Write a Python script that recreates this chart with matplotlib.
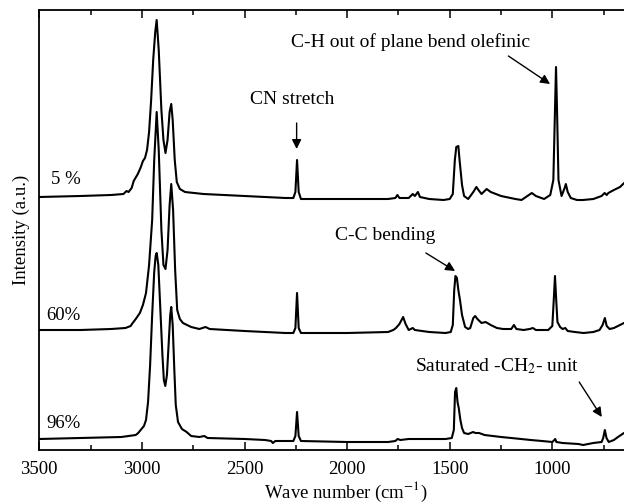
import matplotlib.pyplot as plt
import matplotlib.ticker as mticker

plt.rcParams['font.family'] = ['Liberation Serif', 'DejaVu Serif']
plt.rcParams['mathtext.fontset'] = 'stix'

# spectra (wavenumber, intensity in arbitrary units, already offset)
wn_5 = [3500, 3300, 3150, 3090, 3075, 3065, 3050, 3040, 3020, 3005, 2995, 2985, 2975,
        2965, 2955, 2945, 2935, 2928, 2918, 2905, 2895, 2885, 2875, 2865, 2857, 2850,
        2840, 2830, 2815, 2790, 2700, 2500, 2300, 2262, 2252, 2244, 2236, 2225, 2000,
        1800, 1765, 1755, 1745, 1700, 1680, 1670, 1655, 1645, 1600, 1530, 1500, 1485,
        1475, 1468, 1458, 1452, 1440, 1430, 1410, 1385, 1370, 1360, 1345, 1320, 1300,
        1250, 1180, 1150, 1100, 1080, 1040, 1010, 995, 987, 982, 977, 970, 955, 940,
        934, 925, 910, 880, 850, 800, 760, 745, 735, 727, 700, 670, 650, 620]
int_5 = [253, 254, 255, 256, 259, 258, 262, 269, 276, 283, 289, 292, 300,
         318, 350, 390, 418, 430, 400, 340, 310, 297, 310, 338, 346, 330,
         290, 268, 261, 258, 256, 254, 252, 252, 258, 290, 258, 251, 251,
         251, 252, 255, 252, 252, 256, 254, 258, 253, 251, 250, 251, 256,
         290, 303, 304, 290, 265, 254, 251, 258, 263, 260, 256, 261, 258,
         254, 251, 250, 257, 254, 251, 255, 270, 340, 383, 340, 270, 254, 262,
         266, 258, 252, 250, 250, 251, 254, 257, 255, 257, 260, 263, 267, 272]

wn_60 = [3500, 3300, 3150, 3080, 3055, 3045, 3030, 3010, 2995, 2980, 2965, 2950, 2940,
         2928, 2918, 2905, 2895, 2885, 2875, 2865, 2857, 2848, 2838, 2828, 2815, 2800,
         2760, 2720, 2690, 2670, 2500, 2300, 2262, 2252, 2244, 2236, 2225, 2000, 1800,
         1775, 1762, 1745, 1727, 1715, 1700, 1690, 1680, 1670, 1600, 1520, 1495, 1485,
         1478, 1472, 1465, 1458, 1450, 1440, 1425, 1410, 1400, 1385, 1376, 1365, 1345,
         1325, 1300, 1270, 1240, 1200, 1187, 1175, 1140, 1110, 1095, 1080, 1020, 1000,
         993, 987, 981, 975, 962, 950, 937, 925, 890, 848, 800, 770, 755, 744, 735,
         721, 700, 680, 651, 620]
int_60 = [120, 120, 121, 122, 124, 127, 131, 137, 145, 157, 185, 230, 290,
          338, 300, 220, 185, 181, 200, 245, 266, 240, 180, 140, 131, 127,
          123, 121, 123, 121, 119, 117, 117, 122, 157, 122, 117, 117, 118,
          120, 122, 126, 133, 126, 120, 121, 122, 120, 118, 117, 118, 125,
          160, 174, 172, 160, 150, 135, 123, 121, 122, 132, 134, 131, 127,
          128, 125, 122, 121, 121, 125, 121, 120, 121, 122, 120, 120, 124,
          150, 174, 150, 128, 123, 121, 122, 119, 118, 117, 118, 120, 125, 132, 124,
          121, 122, 124, 127, 130]

wn_96 = [3500, 3300, 3100, 3030, 3018, 2990, 2980, 2970, 2960, 2950, 2940, 2933, 2928,
         2920, 2910, 2900, 2893, 2886, 2878, 2870, 2862, 2857, 2850, 2842, 2835, 2824,
         2805, 2782, 2760, 2720, 2696, 2680, 2500, 2400, 2370, 2362, 2350, 2300, 2262,
         2252, 2244, 2236, 2225, 2000, 1800, 1765, 1754, 1740, 1700, 1600, 1520, 1490,
         1480, 1474, 1468, 1462, 1456, 1448, 1440, 1430, 1410, 1386, 1375, 1357, 1330,
         1250, 1200, 1105, 1050, 1000, 990, 986, 980, 950, 873, 850, 800, 760, 752,
         744, 736, 725, 700, 680, 651, 620]
int_96 = [11, 12, 13, 15, 17, 24, 30, 48, 85, 135, 178, 194, 197,
          185, 140, 95, 70, 64, 75, 105, 135, 143, 125, 80, 45, 28,
          21, 18, 14, 13, 14, 12, 11, 10, 9, 7, 9, 9, 9,
          14, 38, 14, 9, 8, 8, 9, 11, 10, 11, 11, 11, 12,
          20, 58, 62, 48, 42, 30, 22, 17, 16, 18, 17, 17, 15,
          13, 12, 10, 9, 8, 10, 11, 8, 7, 6, 5, 7, 8, 12,
          20, 12, 8, 10, 13, 17, 20]

series_names = ["5 %", "60%", "96%"]

fig = plt.figure(figsize=(6.24, 5.04), dpi=100)
# axes runs past the right edge of the figure (the original is cropped there)
ax = fig.add_axes([39.3 / 624, 54 / 504, 595.1 / 624, 440 / 504])

for wn, inten in [(wn_5, int_5), (wn_60, int_60), (wn_96, int_96)]:
    ax.plot(wn, inten, color='black', lw=1.5, solid_joinstyle='round')

ax.set_xlim(3500, 600)
ax.set_ylim(0, 440)
ax.set_yticks([])
ax.xaxis.set_major_locator(mticker.FixedLocator([3500, 3000, 2500, 2000, 1500, 1000]))
ax.xaxis.set_minor_locator(mticker.FixedLocator([3250, 2750, 2250, 1750, 1250, 750]))
ax.tick_params(axis='x', which='both', direction='in', top=True, labelsize=13.5, pad=8, width=1.1)
ax.tick_params(axis='x', which='major', length=6)
ax.tick_params(axis='x', which='minor', length=3.5)
for sp in ax.spines.values():
    sp.set_linewidth(1.3)

ax.set_xlabel("Wave number (cm$^{-1}$)", fontsize=13.5)
ax.xaxis.set_label_coords(0.515, -0.068)
ax.set_ylabel("Intensity (a.u.)", fontsize=13.5)
ax.yaxis.set_label_coords(-0.016, 0.5)

# sample labels
ax.text(3444, 271, series_names[0], fontsize=13.5, va='center', ha='left')
ax.text(3464, 135, series_names[1], fontsize=13.5, va='center', ha='left')
ax.text(3464, 27, series_names[2], fontsize=13.5, va='center', ha='left')

arrow = dict(arrowstyle='-|>', color='black', lw=1.0, mutation_scale=14, shrinkA=0, shrinkB=0)
ax.annotate("", xy=(2246, 301), xytext=(2246, 327), arrowprops=arrow)
ax.text(2270, 351, "CN stretch", fontsize=14, ha='center', va='center')

ax.annotate("", xy=(1011, 366), xytext=(1214, 394), arrowprops=arrow)
ax.text(1691, 408, "C-H out of plane bend olefinic", fontsize=14, ha='center', va='center')

ax.annotate("", xy=(1474, 179), xytext=(1616, 197), arrowprops=arrow)
ax.text(1815, 215, "C-C bending", fontsize=14, ha='center', va='center')

ax.annotate("", xy=(759, 33), xytext=(869, 68), arrowprops=arrow)
ax.text(1269, 84, "Saturated -CH$_2$- unit", fontsize=14, ha='center', va='center')

fig.savefig("out.png", dpi=100)
